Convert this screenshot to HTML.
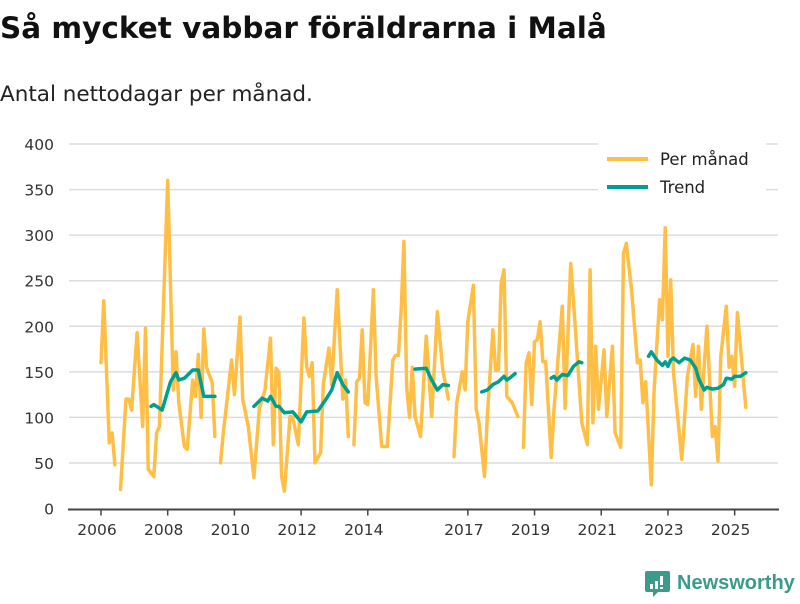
<!DOCTYPE html>
<html><head><meta charset="utf-8">
<style>
body{margin:0;background:#fff;width:800px;height:600px;overflow:hidden;font-family:"DejaVu Sans","Liberation Sans",sans-serif;}
svg text{font-family:"DejaVu Sans","Liberation Sans",sans-serif;}
svg text.logo{font-family:"Liberation Sans",sans-serif;}
</style></head>
<body>
<svg id="chart" width="800" height="600" xmlns="http://www.w3.org/2000/svg">
<text x="0" y="38" font-size="29.5" font-weight="bold" fill="#111">Så mycket vabbar föräldrarna i Malå</text>
<text x="0" y="101" font-size="21.5" fill="#222">Antal nettodagar per månad.</text>
<g id="grid"></g>
<g id="yaxis"></g>
<g id="xaxis"></g>
<g id="series"></g>
<g>
<rect x="598" y="143" width="168" height="58" fill="#fff"/>
<line x1="607" y1="159" x2="648" y2="159" stroke="#FFBF47" stroke-width="4"/>
<text x="660" y="165" font-size="16.5" fill="#222">Per månad</text>
<line x1="607" y1="187" x2="648" y2="187" stroke="#009E8E" stroke-width="4"/>
<text x="660" y="193" font-size="16.5" fill="#222">Trend</text>
</g>
<g>
<path d="M647 571 h21 a2 2 0 0 1 2 2 v17 a2 2 0 0 1 -2 2 h-10 l-5 5 v-5 h-6 a2 2 0 0 1 -2 -2 v-17 a2 2 0 0 1 2 -2z" fill="#3a9a8c"/>
<rect x="650" y="584" width="3" height="5" fill="#fff"/><rect x="655" y="581" width="3" height="8" fill="#fff"/><rect x="660" y="576" width="3" height="9" fill="#fff"/><rect x="660" y="587" width="3" height="2" fill="#fff"/>
<text class="logo" x="677" y="589" font-size="20" font-weight="bold" fill="#3a9a8c">Newsworthy</text>
</g>
</svg>
<script>
// months since Jan 2006 and values (null = gap)
const monthIdx = [0,1,3,4,5,6,7,9,10,11,13,15,16,17,19,20,21,24,26,27,28,30,31,33,34,35,36,37,38,40,41,42,43,44,47,48,50,51,53,55,57,59,61,62,63,64,65,66,68,69,71,73,74,75,76,77,79,80,82,83,85,87,88,89,90,91,92,93,94,95,96,98,99,101,103,105,106,107,108,109,110,111,112,113,115,117,119,121,123,125,126,127,128,130,131,132,134,135,136,138,139,141,142,143,144,145,146,148,150,151,152,153,154,155,156,157,158,159,160,162,163,166,167,169,170,173,175,176,177,178,179,181,182,184,185,187,188,189,191,193,194,195,196,198,199,201,202,203,204,205,206,209,211,213,214,215,216,218,220,221,222,223,225,226,227,228,229,232];
const monthlyValues = [160,228,72,83,48,null,21,120,120,108,193,90,198,43,35,83,90,360,130,172,116,68,65,141,123,169,100,197,155,138,79,null,50,83,163,125,210,120,90,34,110,130,187,70,154,149,35,19,101,100,70,209,155,145,160,50,61,136,176,136,240,120,141,79,null,70,139,143,196,116,114,240,145,68,68,163,168,168,218,293,133,100,155,101,79,189,101,216,152,120,null,57,116,150,130,205,245,109,94,35,101,196,152,152,247,262,123,116,101,null,67,160,171,114,183,185,205,161,161,56,109,222,110,269,227,94,70,262,94,178,109,174,101,178,83,67,280,291,237,160,163,116,139,26,130,229,207,308,167,251,149,54,145,180,123,178,109,200,79,90,52,167,222,155,167,134,215,111];
const trendIdx = [18,19,22,25,27,28,30,33,35,37,41,42,55,58,60,61,63,64,66,69,72,74,78,81,83,85,87,89,90,113,117,119,121,123,125,126,137,139,141,143,145,146,147,149,150,162,163,164,166,168,170,172,173,174,197,198,200,202,203,204,205,206,208,210,212,214,215,217,218,220,222,224,225,227,228,230,232];
const trendValues = [112,114,108,139,149,141,143,152,152,123,123,null,112,121,118,123,112,112,105,106,95,106,107,120,130,149,136,128,null,153,154,141,130,136,135,null,128,130,136,139,145,141,143,148,null,143,145,141,147,146,156,161,160,null,167,172,163,157,161,156,163,165,160,165,163,154,143,130,133,131,132,136,143,142,145,145,149];
const yTicks = [0,50,100,150,200,250,300,350,400];
const xTickYears = [2006,2008,2010,2012,2014,2017,2019,2021,2023,2025];

const NS="http://www.w3.org/2000/svg";
const X0=101, PXYEAR=33.35, Y0=508.5, PXUNIT=364.5/400;
function xMonth(m){return X0+m*PXYEAR/12;}
function xYear(y){return X0+(y-2006)*PXYEAR;}
function yVal(v){return Y0-v*PXUNIT;}
function mk(tag,attrs,parent){const e=document.createElementNS(NS,tag);for(const k in attrs)e.setAttribute(k,attrs[k]);parent.appendChild(e);return e;}

const grid=document.getElementById('grid'),ya=document.getElementById('yaxis'),xa=document.getElementById('xaxis'),ser=document.getElementById('series');
yTicks.forEach(v=>{
  if(v>0){const l=mk('line',{x1:69,x2:778,y1:yVal(v),y2:yVal(v),stroke:'#dcdcdc','stroke-width':1.5},grid);
  
  }
  const t=mk('text',{x:54,y:yVal(v)+6,'text-anchor':'end','font-size':15.5,fill:'#333'},ya);
  
  
  t.textContent=v;
});
const ax=mk('line',{x1:68,x2:779,y1:Y0+1,y2:Y0+1,stroke:'#444','stroke-width':2},xa);


xTickYears.forEach(y=>{
  const x=xYear(y);
  const tk=mk('line',{x1:x,x2:x,y1:Y0+1,y2:Y0+7,stroke:'#444','stroke-width':1.5},xa);
  
  
  const t=mk('text',{x:x-4,y:535,'text-anchor':'middle','font-size':15.5,fill:'#333'},xa);
  
  
  t.textContent=y;
});
function drawLine(idx,vals,color,name){
  let d='',pen=false;
  for(let i=0;i<idx.length;i++){
    if(vals[i]==null){pen=false;continue;}
    d+=(pen?'L':'M')+xMonth(idx[i]).toFixed(1)+' '+yVal(vals[i]).toFixed(1)+' ';pen=true;
  }
  const p=mk('path',{d:d,fill:'none',stroke:color,'stroke-width':3.5,'stroke-linejoin':'round','stroke-linecap':'round'},ser);
  
  
}
drawLine(monthIdx,monthlyValues,'#FFBF47','monthly-line');
drawLine(trendIdx,trendValues,'#009E8E','trend-line');
</script>
</body></html>
